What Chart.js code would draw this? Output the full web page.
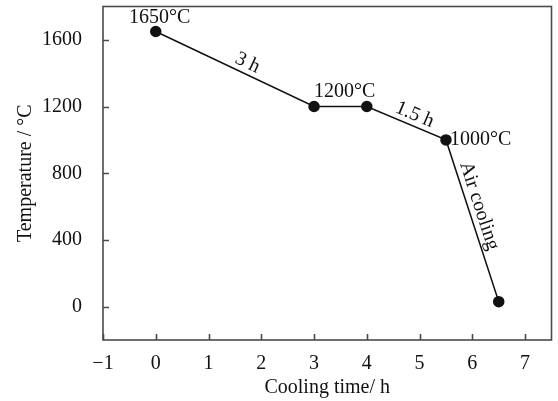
<!DOCTYPE html>
<html>
<head>
<meta charset="utf-8">
<script src="https://cdn.jsdelivr.net/npm/chart.js@4/dist/chart.umd.min.js"></script>
<style>
  html, body { margin: 0; padding: 0; background: #fff; }
  canvas { display: block; }
</style>
</head>
<body>
<canvas id="cooling" width="558" height="401"></canvas>
<script>
const times = [0, 3, 4, 5.5, 6.5];
const temps = [1650, 1200, 1200, 1000, 30];
const pointLabels = ['1650°C', '1200°C', '', '1000°C', ''];
const segmentLabels = ['3 h', '', '1.5 h', 'Air cooling'];
const xTicks = [-1, 0, 1, 2, 3, 4, 5, 6, 7];
const yTicks = [0, 400, 800, 1200, 1600];

const serif = 'Liberation Serif';
const ink = '#111';
const frame = '#4a4a4a';

// where each point label sits relative to its point
const pointLabelPos = [
  { align: 'center', base: 'bottom', dx: 4, dy: -4 },
  { align: 'left', base: 'bottom', dx: 0, dy: -5 },
  null,
  { align: 'left', base: 'middle', dx: 4, dy: 0 },
  null
];

const annotate = {
  id: 'annotate',
  afterDraw(chart) {
    const ctx = chart.ctx;
    const xs = chart.scales.x, ys = chart.scales.y;
    const a = chart.chartArea;
    ctx.save();

    // frame and inward ticks
    ctx.strokeStyle = frame;
    ctx.lineWidth = 1.6;
    ctx.strokeRect(a.left, a.top, a.right - a.left, a.bottom - a.top);
    ctx.beginPath();
    xTicks.forEach(v => {
      const px = Math.round(xs.getPixelForValue(v)) + 0.5;
      ctx.moveTo(px, a.bottom);
      ctx.lineTo(px, a.bottom - 6);
    });
    yTicks.forEach(v => {
      const py = Math.round(ys.getPixelForValue(v)) + 0.5;
      ctx.moveTo(a.left, py);
      ctx.lineTo(a.left + 6, py);
    });
    ctx.stroke();

    ctx.fillStyle = ink;
    ctx.font = '20px "' + serif + '"';

    // point labels
    pointLabels.forEach((t, i) => {
      if (!t) return;
      const p = pointLabelPos[i];
      ctx.textAlign = p.align;
      ctx.textBaseline = p.base;
      ctx.fillText(t, xs.getPixelForValue(times[i]) + p.dx, ys.getPixelForValue(temps[i]) + p.dy);
    });

    // labels along the segments
    segmentLabels.forEach((t, i) => {
      if (!t) return;
      const x0 = xs.getPixelForValue(times[i]), y0 = ys.getPixelForValue(temps[i]);
      const x1 = xs.getPixelForValue(times[i + 1]), y1 = ys.getPixelForValue(temps[i + 1]);
      const ang = Math.atan2(y1 - y0, x1 - x0);
      const frac = i === 3 ? 0.43 : 0.55;
      const cx = x0 + (x1 - x0) * frac + Math.sin(ang) * 11;
      const cy = y0 + (y1 - y0) * frac - Math.cos(ang) * 11;
      ctx.save();
      ctx.translate(cx, cy);
      ctx.rotate(ang);
      ctx.textAlign = 'center';
      ctx.textBaseline = 'middle';
      ctx.fillText(t, 0, 0);
      ctx.restore();
    });

    ctx.restore();
  }
};

new Chart(document.getElementById('cooling'), {
  type: 'scatter',
  data: {
    datasets: [{
      data: times.map((t, i) => ({ x: t, y: temps[i] })),
      showLine: true,
      borderColor: ink,
      borderWidth: 1.5,
      pointBackgroundColor: ink,
      pointBorderColor: ink,
      pointRadius: 5,
      tension: 0
    }]
  },
  options: {
    responsive: false,
    animation: false,
    devicePixelRatio: 1,
    layout: { padding: { top: 5, right: 3, left: 0, bottom: 0 } },
    plugins: {
      legend: { display: false },
      tooltip: { enabled: false }
    },
    scales: {
      x: {
        type: 'linear',
        min: -1,
        max: 7.5,
        afterBuildTicks: s => { s.ticks = xTicks.map(v => ({ value: v })); },
        afterFit: s => { s.height = 61; s.paddingLeft = 0; s.paddingRight = 0; },
        grid: { display: false },
        border: { display: false },
        ticks: {
          color: ink,
          padding: 4,
          maxRotation: 0,
          autoSkip: false,
          font: { family: serif, size: 20 },
          callback: v => String(v).replace('-', '\u2212')
        },
        title: {
          display: true,
          text: 'Cooling time/ h',
          color: ink,
          font: { family: serif, size: 20 },
          padding: { top: 0, bottom: 1 }
        }
      },
      y: {
        type: 'linear',
        min: -200,
        max: 1800,
        afterBuildTicks: s => { s.ticks = yTicks.map(v => ({ value: v })); },
        afterFit: s => { s.width = 103; s.paddingTop = 0; s.paddingBottom = 0; },
        grid: { display: false },
        border: { display: false },
        ticks: {
          color: ink,
          padding: 13,
          autoSkip: false,
          font: { family: serif, size: 20 },
          callback: v => String(v)
        },
        title: {
          display: true,
          text: 'Temperature / °C',
          color: ink,
          font: { family: serif, size: 20 },
          padding: { top: 14, bottom: 0 }
        }
      }
    }
  },
  plugins: [annotate]
});
</script>
</body>
</html>
